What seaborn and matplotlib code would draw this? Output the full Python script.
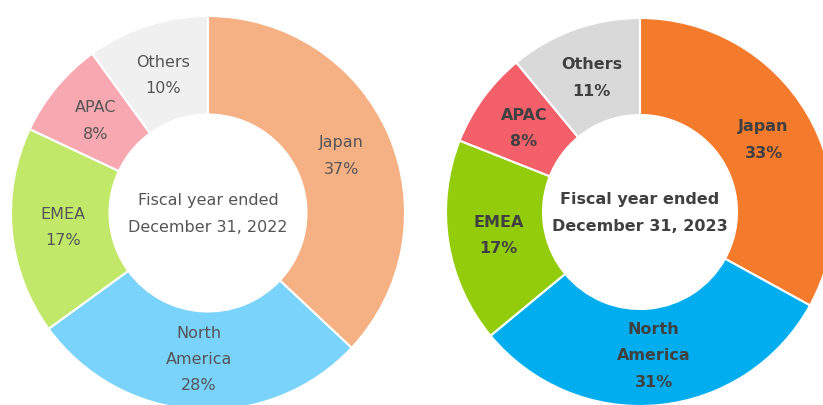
import matplotlib
matplotlib.use("Agg")
import matplotlib.pyplot as plt
import seaborn as sns

# regional revenue share, clockwise from 12 o'clock
regions = ["Japan", "North\nAmerica", "EMEA", "APAC", "Others"]
share_2022 = [37, 28, 17, 8, 10]
share_2023 = [33, 31, 17, 8, 11]
titles = ["Fiscal year ended\nDecember 31, 2022", "Fiscal year ended\nDecember 31, 2023"]

colors_2022 = ["#F5B083", "#7AD3FA", "#C2E86A", "#F8A8B0", "#F0F0F0"]
colors_2023 = ["#F47A2C", "#00AEEF", "#92CC0A", "#F4606A", "#D9D9D9"]

sns.set_theme(style="white")
plt.rcParams["font.family"] = ["DejaVu Sans"]

fig = plt.figure(figsize=(8.23, 4.06), dpi=100)
W, H = 823, 406

# (center x, center y from bottom, radius) in pixels
layout = [(208, 192, 197), (640, 193, 194)]
charts = [
    (share_2022, colors_2022, titles[0], "normal", "#555555"),
    (share_2023, colors_2023, titles[1], "bold", "#404040"),
]

for (cx, cy, r), (vals, cols, title, weight, tcol) in zip(layout, charts):
    ax = fig.add_axes([(cx - r) / W, (cy - r) / H, 2 * r / W, 2 * r / H])
    labels = [f"{n}\n{v}%" for n, v in zip(regions, vals)]
    wedges, texts = ax.pie(
        vals, labels=labels, colors=cols, startangle=90, counterclock=False,
        radius=1, labeldistance=0.74,
        wedgeprops=dict(width=0.5, edgecolor="white", linewidth=1.5),
        textprops=dict(fontsize=11.5, color=tcol, fontweight=weight,
                       linespacing=1.95),
    )
    for t in texts:
        t.set_ha("center")
        t.set_va("center")
    ax.text(0, 0, title, ha="center", va="center", fontsize=11.5,
            color=tcol, fontweight=weight, linespacing=1.95)
    ax.set_xlim(-1, 1)
    ax.set_ylim(-1, 1)
    ax.set_aspect("equal")
    ax.axis("off")

fig.savefig("out.png", dpi=100, facecolor="white")
